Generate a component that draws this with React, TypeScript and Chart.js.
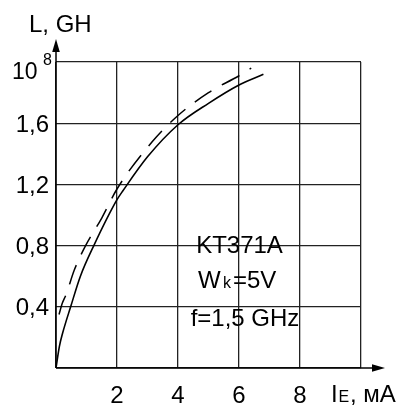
import React, { useEffect, useRef } from "react";
import { Chart, registerables } from "chart.js";

Chart.register(...registerables);

// Solid curve (L vs I_E)
const solidX = [0, 0.11, 0.22, 0.48, 0.8, 1.24, 2.0, 2.2, 3.0, 4.0, 5.0, 6.0, 6.8];
const solidY = [0, 0.14, 0.23, 0.4, 0.6, 0.8, 1.1, 1.16, 1.38, 1.59, 1.73, 1.85, 1.92];
// Dashed curve
const dashX = [0.1, 0.2, 0.33, 0.6, 0.97, 1.5, 2.0, 3.16, 4.0, 5.0, 6.0, 6.4];
const dashY = [0.35, 0.42, 0.48, 0.64, 0.8, 0.98, 1.17, 1.48, 1.65, 1.8, 1.91, 1.96];

const yTickValues = [0.4, 0.8, 1.2, 1.6];
const yTickLabels = ["0,4", "0,8", "1,2", "1,6"];
const xTickValues = [2, 4, 6, 8];
const xTickLabels = ["2", "4", "6", "8"];

const FONT = "'Liberation Sans', Arial, sans-serif";

const overlay = {
  id: "overlay",
  afterDraw(chart: any) {
    const ctx = chart.ctx;
    const xs = chart.scales.x;
    const ys = chart.scales.y;
    const x0 = xs.getPixelForValue(0);
    const y0 = ys.getPixelForValue(0);
    const top = chart.chartArea.top;
    const right = chart.chartArea.right;
    ctx.save();
    ctx.strokeStyle = "#000";
    ctx.fillStyle = "#000";
    ctx.lineWidth = 1.5;
    // y axis with arrow
    ctx.beginPath();
    ctx.moveTo(x0, y0);
    ctx.lineTo(x0, top - 14);
    ctx.stroke();
    ctx.beginPath();
    ctx.moveTo(x0, top - 23);
    ctx.lineTo(x0 - 3.8, top - 10);
    ctx.lineTo(x0 + 3.8, top - 10);
    ctx.closePath();
    ctx.fill();
    // x axis with arrow
    ctx.beginPath();
    ctx.moveTo(x0, y0);
    ctx.lineTo(right + 14, y0);
    ctx.stroke();
    ctx.beginPath();
    ctx.moveTo(right + 24, y0);
    ctx.lineTo(right + 11, y0 - 3.8);
    ctx.lineTo(right + 11, y0 + 3.8);
    ctx.closePath();
    ctx.fill();

    // y tick labels
    ctx.font = `24px ${FONT}`;
    ctx.textAlign = "right";
    ctx.textBaseline = "alphabetic";
    yTickValues.forEach((v, i) => {
      ctx.fillText(yTickLabels[i], 49, ys.getPixelForValue(v) + 8.5);
    });
    // 10^8 at top
    const yTop = ys.getPixelForValue(2);
    ctx.font = `23px ${FONT}`;
    ctx.textAlign = "left";
    ctx.fillText("10", 12, yTop + 17);
    ctx.font = `16px ${FONT}`;
    ctx.fillText("8", 43, yTop + 3);

    // x tick labels
    ctx.font = `24px ${FONT}`;
    ctx.textAlign = "center";
    xTickValues.forEach((v, i) => {
      ctx.fillText(xTickLabels[i], xs.getPixelForValue(v), 403);
    });

    // axis titles
    ctx.textAlign = "left";
    ctx.font = `24px ${FONT}`;
    ctx.fillText("L, GH", 29, 32);
    ctx.fillText("I", 331, 402);
    ctx.font = `16px ${FONT}`;
    ctx.fillText("E", 338.5, 402);
    ctx.font = `24px ${FONT}`;
    ctx.fillText(", мА", 350, 402);

    // annotation text
    ctx.textAlign = "center";
    ctx.fillText("KT371A", 239.5, 253);
    ctx.textAlign = "left";
    ctx.fillText("W", 198, 288);
    ctx.font = `16px ${FONT}`;
    ctx.fillText("k", 223, 288);
    ctx.font = `24px ${FONT}`;
    ctx.fillText("=5V", 233, 288);
    ctx.textAlign = "center";
    ctx.fillText("f=1,5 GHz", 245, 326);
    ctx.restore();
  },
};

export default function App() {
  const ref = useRef<HTMLCanvasElement>(null);
  useEffect(() => {
    if (!ref.current) return;
    const chart = new Chart(ref.current, {
      type: "line",
      data: {
        datasets: [
          {
            data: solidX.map((x, i) => ({ x, y: solidY[i] })),
            borderColor: "#000",
            borderWidth: 1.6,
            pointRadius: 0,
            cubicInterpolationMode: "monotone",
            fill: false,
          },
          {
            data: dashX.map((x, i) => ({ x, y: dashY[i] })),
            borderColor: "#000",
            borderWidth: 1.5,
            borderDash: [20, 12],
            pointRadius: 0,
            cubicInterpolationMode: "monotone",
            fill: false,
          },
        ],
      },
      options: {
        animation: false,
        responsive: false,
        devicePixelRatio: 1,
        layout: { padding: { left: 56, top: 62, right: 53, bottom: 39 } },
        plugins: { legend: { display: false }, tooltip: { enabled: false } },
        scales: {
          x: {
            type: "linear",
            min: 0,
            max: 10,
            ticks: { display: false, stepSize: 2 },
            grid: { color: "#222", lineWidth: 1.3, drawTicks: false },
            border: { display: false },
          },
          y: {
            type: "linear",
            min: 0,
            max: 2,
            ticks: { display: false, stepSize: 0.4 },
            grid: { color: "#222", lineWidth: 1.3, drawTicks: false },
            border: { display: false },
          },
        },
      },
      plugins: [overlay],
    });
    return () => chart.destroy();
  }, []);
  return (
    <div style={{ position: "absolute", left: 0, top: 0, width: 414, height: 407, background: "#fff" }}>
      <canvas ref={ref} width={414} height={407} style={{ display: "block" }} />
    </div>
  );
}
